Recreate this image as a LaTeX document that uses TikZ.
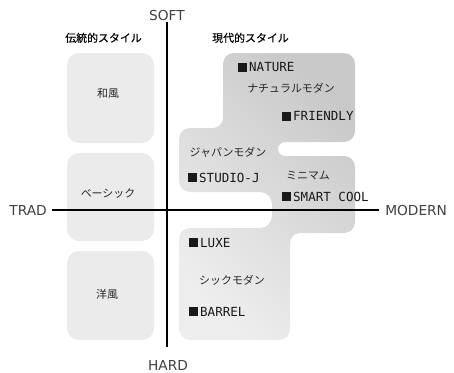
\documentclass[tikz,border=0pt]{standalone}
\usepackage{fontspec}
\setmainfont{Noto Sans CJK JP}
\newfontfamily\jphead[FakeBold=0.5]{Noto Sans CJK JP}
\newfontfamily\monof{DejaVu Sans Mono}
\newfontfamily\axisf{DejaVu Sans}
\definecolor{boxgray}{HTML}{EBEBEB}
\definecolor{shadedark}{HTML}{C9C9C9}
\definecolor{shadelight}{HTML}{EEEEEE}
\newcommand\sqm{\rule{6.6pt}{6.6pt}\hspace{1.6pt}}
\begin{document}
\begin{tikzpicture}[x=0.75pt,y=0.75pt,
  jp/.style={font=\fontsize{8.2pt}{10pt}\selectfont, text=black!85, inner sep=0pt, text height=7.1pt, text depth=1.1pt},
  head/.style={jp, font=\jphead\fontsize{8.2pt}{10pt}\selectfont, text=black},
  mono/.style={font=\monof\fontsize{9.4pt}{11pt}\selectfont, text=black!90, inner sep=0pt, text height=6.8pt, text depth=0pt, anchor=west},
  axlabel/.style={font=\axisf\fontsize{10.3pt}{12pt}\selectfont, text=black!75, inner sep=0pt, text height=7.5pt, text depth=0pt},
  axisline/.style={line width=1.5pt, black},
  leftbox/.style={fill=boxgray, rounded corners=9pt}
]
\useasboundingbox (0,0) rectangle (454,-372);

% left boxes
\fill[leftbox] (67,-53) rectangle (154,-143);
\fill[leftbox] (67,-153) rectangle (154,-241);
\fill[leftbox] (67,-251) rectangle (154,-340);

% modern gray region
\shade[top color=shadedark, bottom color=shadelight, shading angle=-45]
 (234,-53) -- (344,-53)
 arc[start angle=90, end angle=0, radius=11]
 -- (355,-131)
 arc[start angle=0, end angle=-90, radius=11]
 -- (285,-142)
 arc[start angle=90, end angle=270, radius=7]
 -- (344,-156)
 arc[start angle=90, end angle=0, radius=11]
 -- (355,-222)
 arc[start angle=0, end angle=-90, radius=11]
 -- (300,-233)
 arc[start angle=90, end angle=180, radius=10]
 -- (290,-329)
 arc[start angle=0, end angle=-90, radius=11]
 -- (190,-340)
 arc[start angle=-90, end angle=-180, radius=11]
 -- (179,-239)
 arc[start angle=180, end angle=90, radius=11]
 -- (260,-228)
 arc[start angle=-90, end angle=0, radius=12]
 -- (272,-204)
 arc[start angle=0, end angle=90, radius=12]
 -- (190,-192)
 arc[start angle=-90, end angle=-180, radius=11]
 -- (179,-139)
 arc[start angle=180, end angle=90, radius=11]
 -- (213,-128)
 arc[start angle=-90, end angle=0, radius=10]
 -- (223,-64)
 arc[start angle=180, end angle=90, radius=11]
 -- cycle;

% axes
\coordinate (axL) at (52,-210);
\coordinate (axR) at (379,-210);
\coordinate (axT) at (166.5,-22);
\coordinate (axB) at (166.5,-347);
\draw[axisline] (axL) -- (axR);
\draw[axisline] (axT) -- (axB);

\node[axlabel] (soft) at (167,-15) {SOFT};
\node[axlabel] (hard) at (168,-365) {HARD};
\node[axlabel, anchor=east] (trad) at (47,-210) {TRAD};
\node[axlabel, anchor=west] (modern) at (385,-210) {MODERN};

% headers
\node[head] (h1) at (103.5,-38) {伝統的スタイル};
\node[head] (h2) at (250.5,-38) {現代的スタイル};

% left labels
\node[jp] (wafu) at (108,-93) {和風};
\node[jp] (basic) at (108,-193) {ベーシック};
\node[jp] (yofu) at (107,-294) {洋風};

% modern labels
\node[jp] (natmod) at (291,-88) {ナチュラルモダン};
\node[jp] (japmod) at (228,-152) {ジャパンモダン};
\node[jp] (minim) at (308,-175) {ミニマム};
\node[jp] (chic) at (232,-280) {シックモダン};

\node[mono] (nature) at (238,-67) {\sqm NATURE};
\node[mono] (friendly) at (282,-116) {\sqm FRIENDLY};
\node[mono] (studio) at (188,-177.5) {\sqm STUDIO-J};
\node[mono] (smart) at (282,-196.5) {\sqm SMART COOL};
\node[mono] (luxe) at (189,-242.5) {\sqm LUXE};
\node[mono] (barrel) at (189,-311.5) {\sqm BARREL};
\end{tikzpicture}
\end{document}
